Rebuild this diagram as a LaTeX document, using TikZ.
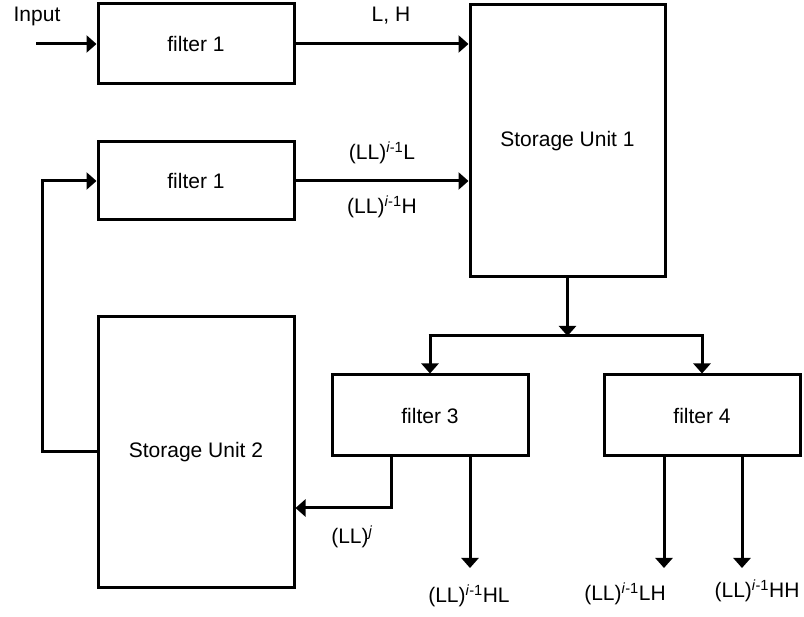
\documentclass[tikz,border=0pt]{standalone}
\usepackage{fontspec}
\setmainfont{Liberation Sans}
\usetikzlibrary{arrows.meta}
\begin{document}
\begin{tikzpicture}[x=1pt,y=-1pt,
  box/.style={draw,line width=3pt,inner sep=0pt,font=\fontsize{21}{25}\selectfont},
  lbl/.style={inner sep=0pt,font=\fontsize{21}{25}\selectfont},
  arr/.style={line width=3pt,-{Triangle[length=10pt,width=17pt]}},
  wire/.style={line width=3pt}]
\useasboundingbox (0,0) rectangle (804,617);
% boxes
\node[box,minimum width=196pt,minimum height=80pt] (f1a) at (196,44) {filter 1};
\node[box,minimum width=196pt,minimum height=78pt] (f1b) at (196,181) {filter 1};
\node[box,minimum width=195pt,minimum height=272pt] (su1) at (567.5,141) {Storage Unit 1};
\node[box,minimum width=196pt,minimum height=271pt] (su2) at (196,452.5) {Storage Unit 2};
\node[box,minimum width=196pt,minimum height=81pt] (f3) at (430,415.5) {filter 3};
\node[box,minimum width=196pt,minimum height=81pt] (f4) at (702,415.5) {filter 4};
% labels
\node[lbl] (tin) at (37,16) {Input};
\node[lbl] (tlh) at (391,16) {L, H};
\node[lbl] (tl) at (382,153) {(LL)\textsuperscript{\textit{i}-1}L};
\node[lbl] (th) at (382,207) {(LL)\textsuperscript{\textit{i}-1}H};
\node[lbl] (tj) at (352,537) {(LL)\textsuperscript{\textit{j}}};
\node[lbl] (thl) at (469,596) {(LL)\textsuperscript{\textit{i}-1}HL};
\node[lbl] (tlh2) at (625,594) {(LL)\textsuperscript{\textit{i}-1}LH};
\node[lbl] (thh) at (757,591) {(LL)\textsuperscript{\textit{i}-1}HH};
% coordinates
\coordinate (in) at (36,44);
\coordinate (jc) at (567.5,336);
\coordinate (jl) at (430,336);
\coordinate (jr) at (702,336);
\coordinate (fb) at (42,452);
\coordinate (ret) at (391,508);
\coordinate (o3) at (470,568);
\coordinate (o4a) at (664,568);
\coordinate (o4b) at (742,568);
% connectors
\draw[arr] (in) -- (f1a.west);
\draw[arr] (f1a.east) -- (f1a.east -| su1.west);
\draw[arr] (f1b.east) -- (f1b.east -| su1.west);
\draw[arr] (su1.south) -- (jc);
\draw[wire] ([xshift=-1.5pt]jl) -- ([xshift=1.5pt]jr);
\draw[arr] ([yshift=1.5pt]jl) -- (f3.north);
\draw[arr] ([yshift=1.5pt]jr) -- (f4.north);
\draw[arr] (f3.south -| ret) -- (ret) -- (ret -| su2.east);
\draw[arr] (f3.south -| o3) -- (o3);
\draw[arr] (f4.south -| o4a) -- (o4a);
\draw[arr] (f4.south -| o4b) -- (o4b);
\draw[arr] (su2.west |- fb) -- (fb) |- (f1b.west);
\end{tikzpicture}
\end{document}
